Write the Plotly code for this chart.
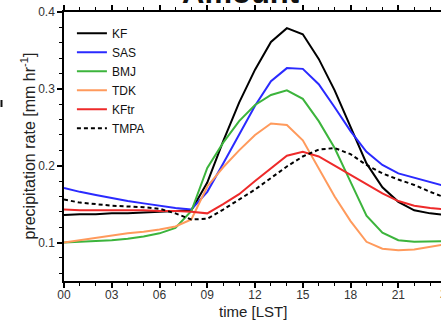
import plotly.graph_objects as go

hours = list(range(25))
tick_vals = [0, 3, 6, 9, 12, 15, 18, 21]
tick_text = ["00", "03", "06", "09", "12", "15", "18", "21"]
last_tick_text = "24"

KF = [0.136, 0.137, 0.137, 0.138, 0.138, 0.139, 0.140, 0.141, 0.142, 0.178, 0.232, 0.282,
      0.325, 0.361, 0.379, 0.371, 0.339, 0.298, 0.250, 0.203, 0.172, 0.153, 0.142, 0.138, 0.136]
SAS = [0.171, 0.166, 0.162, 0.158, 0.154, 0.151, 0.148, 0.145, 0.143, 0.166, 0.203, 0.241,
       0.278, 0.310, 0.327, 0.326, 0.306, 0.276, 0.245, 0.218, 0.201, 0.190, 0.184, 0.179, 0.173]
BMJ = [0.100, 0.101, 0.102, 0.103, 0.105, 0.108, 0.112, 0.119, 0.141, 0.197, 0.230, 0.258,
       0.279, 0.292, 0.298, 0.287, 0.258, 0.223, 0.179, 0.135, 0.113, 0.103, 0.101, 0.101, 0.102]
TDK = [0.100, 0.103, 0.106, 0.109, 0.112, 0.114, 0.117, 0.121, 0.130, 0.173, 0.198, 0.220,
       0.240, 0.255, 0.253, 0.233, 0.197, 0.160, 0.128, 0.101, 0.092, 0.090, 0.091, 0.095, 0.098]
KFtr = [0.143, 0.142, 0.142, 0.142, 0.142, 0.142, 0.141, 0.141, 0.140, 0.138, 0.150, 0.163,
        0.180, 0.197, 0.213, 0.218, 0.212, 0.200, 0.188, 0.176, 0.164, 0.154, 0.148, 0.145, 0.143]
TMPA = [0.156, 0.152, 0.150, 0.148, 0.147, 0.146, 0.144, 0.138, 0.130, 0.131, 0.143, 0.156,
        0.169, 0.184, 0.199, 0.212, 0.221, 0.223, 0.215, 0.201, 0.190, 0.182, 0.175, 0.166, 0.158]

series = [
    ("KF", KF, "#000000", "solid"),
    ("SAS", SAS, "#2a2aff", "solid"),
    ("BMJ", BMJ, "#3cb43c", "solid"),
    ("TDK", TDK, "#ff9a5c", "solid"),
    ("KFtr", KFtr, "#ee2a2a", "solid"),
    ("TMPA", TMPA, "#000000", "4px,3px"),
]

XMAX = 377 / 15.92  # visible part of the 0-24 h axis (panel is cut at right edge)

fig = go.Figure()
for name, vals, color, dash in series:
    fig.add_trace(go.Scatter(x=hours, y=vals, mode="lines", name=name,
                             line=dict(color=color, width=2, dash=dash)))

font_family = "Liberation Sans, Arial, sans-serif"
fig.update_layout(
    template="none",
    width=441, height=325,
    margin=dict(l=64, r=0, t=12, b=44, autoexpand=False),
    paper_bgcolor="white", plot_bgcolor="white",
    font=dict(family=font_family, color="#222222"),
    showlegend=True,
    legend=dict(x=0.021, y=0.975, xanchor="left", yanchor="top",
                bgcolor="rgba(0,0,0,0)", borderwidth=0,
                font=dict(size=12, color="#111111"),
                itemwidth=30, tracegroupgap=0),
    xaxis=dict(range=[0, XMAX], tickvals=tick_vals, ticktext=tick_text, automargin=False,
               showgrid=False, zeroline=False, showline=True, linecolor="black",
               linewidth=1.5, mirror="ticks", ticks="outside", ticklen=5,
               tickwidth=1.5, tickcolor="black", tickfont=dict(size=12, color="#333333"),
               ticklabelstandoff=-3,
               minor=dict(dtick=1, tick0=0, ticks="outside", ticklen=3, tickcolor="black",
                          tickwidth=1, showgrid=False)),
    yaxis=dict(range=[0.05, 0.4], tickvals=[0.1, 0.2, 0.3, 0.4], automargin=False,
               ticktext=["0.1", "0.2", "0.3", "0.4"],
               showgrid=False, zeroline=False, showline=True, linecolor="black",
               linewidth=1.5, ticks="outside", ticklen=5, tickwidth=1.5, tickcolor="black",
               tickfont=dict(size=12, color="#333333"),
               minor=dict(dtick=0.02, tick0=0, ticks="outside", ticklen=3, tickcolor="black",
                          tickwidth=1, showgrid=False)),
)

# axis titles
fig.add_annotation(x=0.5, xref="paper", y=(281 - 311) / 269, yref="paper", yanchor="middle",
                   text="time [LST]", showarrow=False, font=dict(size=15, color="#222222"))
fig.add_annotation(x=(28 - 64) / 377, xref="paper", y=0.5, yref="paper",
                   xanchor="center", yanchor="middle", textangle=-90,
                   text="precipitation rate [mm hr<sup>-1</sup>]", showarrow=False,
                   font=dict(size=16, color="#222222"))
# last tick label, mostly cut off by the right edge
fig.add_annotation(x=(438 - 64) / 377, xref="paper", y=0, yref="paper", xanchor="left",
                   yanchor="top", yshift=-4, text=last_tick_text, showarrow=False,
                   font=dict(size=12, color="#333333"))
# panel title, mostly cut off at the top
fig.add_annotation(x=0.467, xref="paper", y=1.073, yref="paper", yanchor="middle",
                   text="<b>Amount</b>", showarrow=False,
                   font=dict(size=31, color="#111111", family=font_family))
# fragment of neighbouring panel at left edge
fig.add_shape(type="line", xref="paper", yref="paper",
              x0=(1.5 - 64) / 377, x1=(1.5 - 64) / 377,
              y0=(281 - 100) / 269, y1=(281 - 107) / 269,
              line=dict(color="#111111", width=2))

fig.write_html("out.html", config={"displayModeBar": False},
               post_script="document.body.style.margin='0';document.body.style.overflow='hidden';")
